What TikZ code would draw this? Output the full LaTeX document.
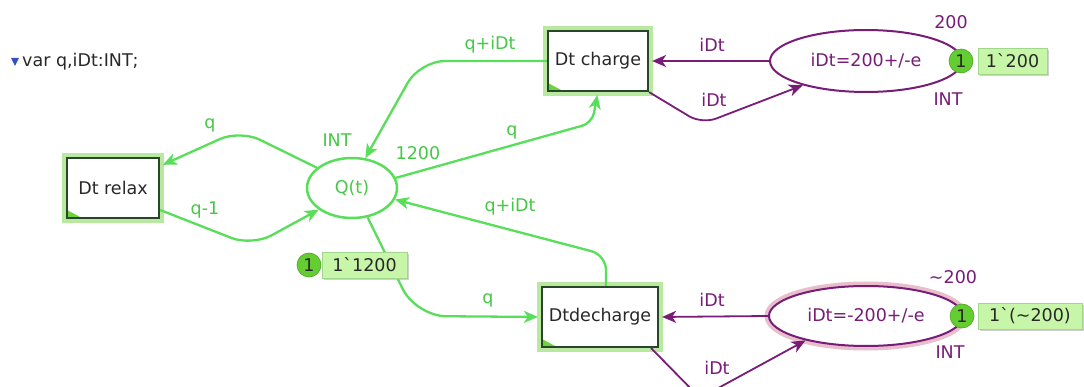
\documentclass[tikz,border=0pt]{standalone}
\usepackage{fontspec}
\setmainfont{DejaVu Sans}
\usetikzlibrary{shapes.geometric,arrows.meta,shadows}
\definecolor{gline}{RGB}{88,222,88}
\definecolor{gtext}{RGB}{70,200,70}
\definecolor{purp}{RGB}{120,28,120}
\definecolor{tdark}{RGB}{40,70,40}
\definecolor{thalo}{RGB}{185,232,160}
\definecolor{tri}{RGB}{110,210,60}
\definecolor{pinkhalo}{RGB}{232,190,205}
\definecolor{tokfill}{RGB}{100,205,50}
\definecolor{boxfill}{RGB}{200,246,168}
\definecolor{boxedge}{RGB}{160,215,140}
\definecolor{decl}{RGB}{50,80,200}
\definecolor{txt}{RGB}{40,40,40}
\begin{document}
\begin{tikzpicture}[x=1pt,y=-1pt,
  font=\fontsize{17.5}{20}\selectfont,
  trans/.style={rectangle, draw=tdark, line width=2.2pt, fill=white, inner sep=0, text=txt,
    preaction={draw=thalo, line width=10pt},
    path picture={\fill[tri] (path picture bounding box.south west) -- ++(15pt,0pt) -- ++(-15pt,8pt) -- cycle;}},
  place/.style={ellipse, inner sep=0, fill=white},
  garc/.style={draw=gline, line width=2.3pt, -{Stealth[length=14pt,width=12pt,inset=4pt]}},
  parc/.style={draw=purp, line width=1.8pt, -{Stealth[length=14pt,width=12pt,inset=4pt]}},
  glab/.style={text=gtext, inner sep=1pt},
  plab/.style={text=purp, inner sep=1pt},
  tok/.style={circle, fill=tokfill, draw=tokfill!80!black, line width=0.6pt, minimum size=24pt, inner sep=0, text=txt},
  tokbox/.style={rectangle, fill=boxfill, draw=boxedge, line width=0.6pt, inner sep=0, minimum height=26pt, text=txt,
    drop shadow={shadow xshift=2pt, shadow yshift=-2pt, fill=gray!60, opacity=0.6}}
]
\useasboundingbox (0,0) rectangle (1084,387);
\clip (0,0) rectangle (1084,387);
\fill[white] (0,0) rectangle (1084,387);

% declaration
\fill[decl] (11,58) -- (19,58) -- (15,66) -- cycle;
\node[anchor=west, text=txt, inner sep=0] (decl) at (22,62) {var q,iDt:INT;};

% transitions
\node[trans, minimum width=92pt, minimum height=60pt] (relax) at (113,188) {Dt relax};
\node[trans, minimum width=100pt, minimum height=60pt] (charge) at (598,61) {Dt charge};
\node[trans, minimum width=116pt, minimum height=60pt] (dech) at (600,317) {Dtdecharge};

% places
\node[place, draw=gline, line width=2.5pt, minimum width=90pt, minimum height=60pt, text=gtext] (Q) at (352,188) {Q(t)};
\node[place, draw=purp, line width=2pt, minimum width=192pt, minimum height=62pt, text=purp] (cp) at (866,61) {iDt=200+/-e};
\node[place, draw=purp, line width=2pt, minimum width=194pt, minimum height=60pt, text=purp,
  preaction={draw=pinkhalo, line width=9pt}] (dp) at (866,316) {iDt=-200+/-e};

% green arcs
\draw[garc, rounded corners=22pt, shorten >=3pt] (Q.150) -- (240,130) -- (relax.25);
\draw[garc, rounded corners=22pt] ([yshift=-22pt]relax.east) -- (252,246) -- (Q.213);
\draw[garc, rounded corners=25pt] (charge.west) -- (420,61) -- (Q.66);
\draw[garc, rounded corners=10pt, shorten >=3pt] (Q.13) -- (592,123) -- (charge.south);
\draw[garc, rounded corners=15pt] ([xshift=6pt]dech.north) -- (606,255) -- (Q.-15);
\draw[garc, rounded corners=30pt, shorten >=3pt] (Q.-62) -- (416,316) -- (dech.west);

% purple arcs
\draw[parc, shorten >=3pt] (cp.west) -- (charge.east);
\draw[parc, rounded corners=15pt] (charge.south east) -- (702,124) -- (cp.201);
\draw[parc, shorten >=3pt] (dp.west) -- (dech.east);
\draw[parc, rounded corners=12pt] ([xshift=-8pt]dech.south east) -- (700,398) -- (dp.202);

% tokens
\node[tok] (tq) at (309,265) {1};
\node[tokbox, minimum width=85pt] (bq) at (364.5,265) {1ˋ1200};
\node[tok] (tc) at (961,61) {1};
\node[tokbox, minimum width=69pt] (bc) at (1012.5,61) {1ˋ200};
\node[tok] (td) at (962,316) {1};
\node[tokbox, minimum width=104pt] (bd) at (1030,316) {1ˋ(\textasciitilde200)};

% place labels
\node[glab] (lqint) at (337,140) {INT};
\node[glab] (lqinit) at (418,153) {1200};
\node[plab] (lcinit) at (951,22) {200};
\node[plab] (lcint) at (948,99) {INT};
\node[plab] (ldinit) at (953,277) {\textasciitilde200};
\node[plab] (ldint) at (950,352) {INT};

% arc labels
\node[glab] (a1) at (210,125) {q};
\node[glab] (a2) at (205,210) {q-1};
\node[glab] (a3) at (490,45) {q+iDt};
\node[glab] (a4) at (512,132) {q};
\node[glab] (a5) at (510,207) {q+iDt};
\node[glab] (a6) at (488,300) {q};
\node[plab] (a7) at (712,45) {iDt};
\node[plab] (a8) at (714,100) {iDt};
\node[plab] (a9) at (712,300) {iDt};
\node[plab] (a10) at (717,368) {iDt};
\end{tikzpicture}
\end{document}
